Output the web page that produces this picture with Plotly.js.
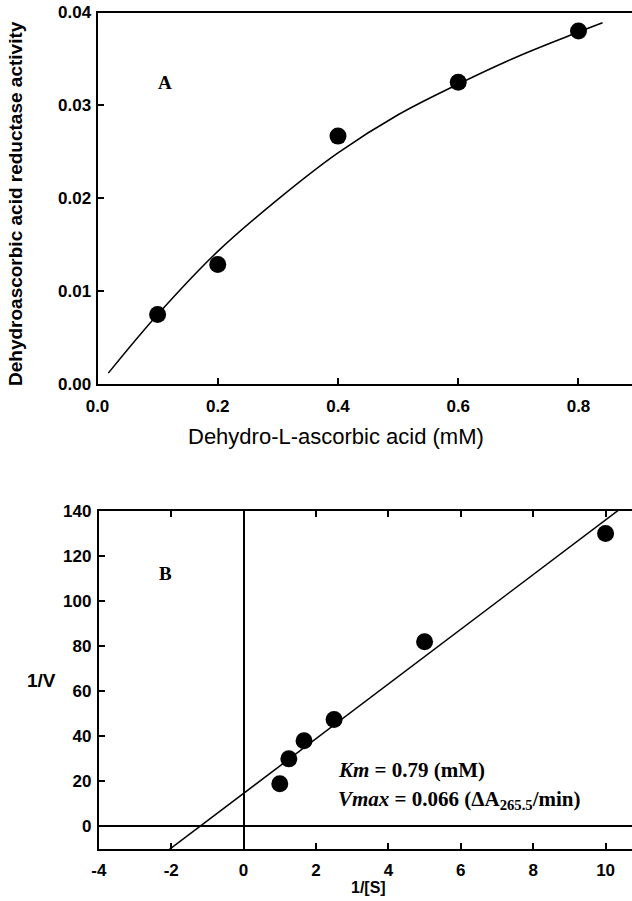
<!DOCTYPE html>
<html><head><meta charset="utf-8">
<script src="https://cdn.plot.ly/plotly-3.0.1.min.js"></script>
<style>html,body{margin:0;padding:0;background:#fff;overflow:hidden}#chart{width:632px;height:901px}</style>
</head><body><div id="chart"></div>
<script>
// Panel A: activity vs substrate
const substrate = [0.1, 0.2, 0.4, 0.6, 0.8];
const activity = [0.0075, 0.0129, 0.0267, 0.0325, 0.0380];
const fitA_x = [0.018, 0.1, 0.2, 0.3, 0.4, 0.5, 0.6, 0.7, 0.8, 0.84];
const fitA_y = [0.0012, 0.0075, 0.0143, 0.0199, 0.0249, 0.0290, 0.0323, 0.0353, 0.0379, 0.0389];
const ticksA_x = [0.0, 0.2, 0.4, 0.6, 0.8];
const ticksA_xlab = ['0.0', '0.2', '0.4', '0.6', '0.8'];
const ticksA_y = [0, 0.01, 0.02, 0.03, 0.04];
const ticksA_ylab = ['0.00', '0.01', '0.02', '0.03', '0.04'];
// Panel B: Lineweaver-Burk
const invS = [1, 1.25, 1.67, 2.5, 5, 10];
const invV = [19, 30, 38, 47.5, 82, 130];
const lineB_x = [-2.2, 10.45];
const lineB_y = [-12, 141.5];
const ticksB_x = [-4, -2, 0, 2, 4, 6, 8, 10];
const ticksB_xlab = ['-4', '-2', '0', '2', '4', '6', '8', '10'];
const ticksB_y = [0, 20, 40, 60, 80, 100, 120, 140];
const ticksB_ylab = ['0', '20', '40', '60', '80', '100', '120', '140'];

const W = 632, H = 901;
const px = v => v / W;
const py = v => 1 - v / H;
const bold = arr => arr.map(s => '<b>' + s + '</b>');

const tickFont = {family: 'Liberation Sans, Arial', size: 17, color: '#000', weight: 'bold'};
const black = '#000';

const traces = [
  {x: fitA_x, y: fitA_y, mode: 'lines', line: {color: black, width: 1.5, shape: 'spline', smoothing: 1}, xaxis: 'x', yaxis: 'y', hoverinfo: 'skip'},
  {x: substrate, y: activity, mode: 'markers', marker: {color: black, size: 17}, xaxis: 'x', yaxis: 'y', cliponaxis: false},
  {x: lineB_x, y: lineB_y, mode: 'lines', line: {color: black, width: 1.5}, xaxis: 'x2', yaxis: 'y2', hoverinfo: 'skip'},
  {x: invS, y: invV, mode: 'markers', marker: {color: black, size: 17}, xaxis: 'x2', yaxis: 'y2', cliponaxis: false}
];

const axBase = {
  showgrid: false, zeroline: false, showline: true, linecolor: black, linewidth: 2,
  ticks: 'inside', ticklen: 6, tickwidth: 2, tickcolor: black, tickfont: tickFont
};

const ann = (text, x, y, font, extra) => Object.assign({
  text, xref: 'paper', yref: 'paper', x: px(x), y: py(y),
  xanchor: 'center', yanchor: 'middle', showarrow: false, font
}, extra || {});

const sans = (size, weight) => ({family: 'Liberation Sans, Arial', size, color: black, weight: weight || 'normal'});
const serif = size => ({family: 'Liberation Serif, Times New Roman', size, color: black, weight: 'bold'});

const layout = {
  width: W, height: H, showlegend: false,
  margin: {l: 0, r: 0, t: 0, b: 0},
  paper_bgcolor: '#fff', plot_bgcolor: '#fff',
  xaxis: Object.assign({}, axBase, {
    domain: [px(97.5), 1], range: [0, 0.889], anchor: 'y', mirror: true,
    tickmode: 'array', tickvals: ticksA_x, ticktext: bold(ticksA_xlab), ticklabelstandoff: 5
  }),
  yaxis: Object.assign({}, axBase, {
    domain: [py(384.3), py(12.5)], range: [0, 0.04], anchor: 'x',
    tickmode: 'array', tickvals: ticksA_y, ticktext: bold(ticksA_ylab), ticklabelstandoff: 1
  }),
  xaxis2: Object.assign({}, axBase, {
    domain: [px(98.8), 1], range: [-4, 10.73], anchor: 'y2', mirror: 'ticks',
    tickmode: 'array', tickvals: ticksB_x, ticktext: bold(ticksB_xlab), ticklabelstandoff: 5,
    zeroline: true, zerolinecolor: black, zerolinewidth: 2
  }),
  yaxis2: Object.assign({}, axBase, {
    domain: [py(849), py(511)], range: [-10, 140], anchor: 'x2',
    tickmode: 'array', tickvals: ticksB_y, ticktext: bold(ticksB_ylab), ticklabelstandoff: 2,
    zeroline: true, zerolinecolor: black, zerolinewidth: 2
  }),
  annotations: [
    ann('Dehydroascorbic acid reductase activity', 16, 204, sans(19, 'bold'), {textangle: -90}),
    ann('Dehydro-L-ascorbic acid (mM)', 336, 436, sans(22)),
    ann('A', 165, 83, serif(19)),
    ann('B', 165, 573, serif(19)),
    ann('1/V', 41, 680, sans(19, 'bold')),
    ann('1/[S]', 368, 887, sans(16, 'bold')),
    ann('<i>Km</i> = 0.79 (mM)', 336, 770, serif(21), {xanchor: 'left'}),
    ann('<i>Vmax</i> = 0.066 (ΔA<sub>265.5</sub>/min)', 336, 800, serif(21), {xanchor: 'left'})
  ]
};

Plotly.newPlot('chart', traces, layout, {displayModeBar: false, staticPlot: true});
</script>
</body></html>
